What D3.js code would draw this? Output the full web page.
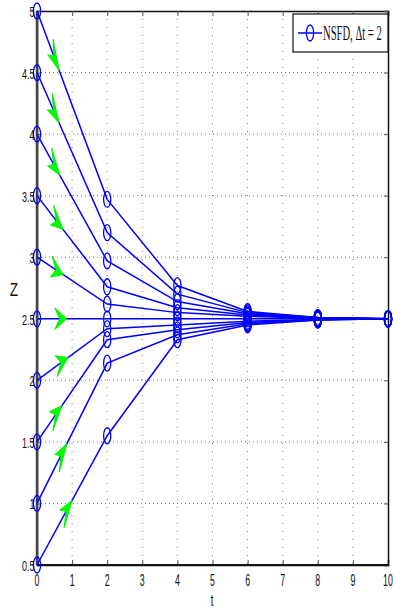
<!DOCTYPE html>
<html lang="en">
<head>
    <meta charset="UTF-8">
    <title>NSFD, dt = 2</title>
    <style>
        body {
            margin: 0;
            background-color: white;
        }
        svg {
            display: block;
        }
        .tick-label {
            font-family: "Liberation Sans", Arial, sans-serif;
            font-size: 15px;
            fill: #111;
        }
        .grid line {
            stroke: #777;
            stroke-width: 1;
        }
        .grid line.v { stroke-dasharray: 1,7; }
        .grid line.h { stroke-dasharray: 1,3; }
    </style>
    <script src="https://d3js.org/d3.v7.min.js"></script>
</head>
<body>
    <svg width="393" height="614"></svg>

    <script>
        // time steps of the scheme
        const tValues = [0, 2, 4, 6, 8, 10];

        // one trajectory per initial value
        const trajectories = [
            [5.0, 3.47, 2.77, 2.56, 2.51, 2.50],
            [4.5, 3.20, 2.70, 2.55, 2.51, 2.50],
            [4.0, 2.97, 2.64, 2.54, 2.51, 2.50],
            [3.5, 2.76, 2.59, 2.53, 2.505, 2.50],
            [3.0, 2.62, 2.55, 2.52, 2.505, 2.50],
            [2.5, 2.50, 2.50, 2.50, 2.50, 2.50],
            [2.0, 2.42, 2.45, 2.48, 2.495, 2.50],
            [1.5, 2.33, 2.41, 2.47, 2.495, 2.50],
            [1.0, 2.14, 2.37, 2.46, 2.49, 2.50],
            [0.5, 1.55, 2.33, 2.45, 2.49, 2.50]
        ];

        // where the green direction arrows sit on each trajectory (t of the tip)
        const arrowT = [0.63, 0.63, 0.65, 0.74, 0.74, 0.85, 0.88, 0.71, 0.85, 1.0];

        const xTicks = [0, 1, 2, 3, 4, 5, 6, 7, 8, 9, 10];
        const yTicks = [0.5, 1, 1.5, 2, 2.5, 3, 3.5, 4, 4.5, 5];
        const legendLabel = "NSFD, \u0394t = 2";

        const svg = d3.select("svg");
        const mLeft = 37, mRight = 388, mTop = 11, mBottom = 565;

        const x = d3.scaleLinear().domain([0, 10]).range([mLeft, mRight]);
        const y = d3.scaleLinear().domain([0.5, 5]).range([mBottom, mTop]);

        // narrow text, the original figure was stretched vertically
        function squeezedText(g, px, py, str, anchor, size, sx) {
            return g.append("text")
                .attr("transform", `translate(${px},${py}) scale(${sx},1)`)
                .attr("text-anchor", anchor)
                .style("font-size", size + "px")
                .text(str);
        }

        // dotted grid
        const grid = svg.append("g").attr("class", "grid");
        grid.selectAll("line.v")
            .data(xTicks.slice(1, -1))
            .enter().append("line")
            .attr("class", "v")
            .attr("x1", d => x(d)).attr("x2", d => x(d))
            .attr("y1", mTop).attr("y2", mBottom);
        grid.selectAll("line.h")
            .data(yTicks.slice(1, -1))
            .enter().append("line")
            .attr("class", "h")
            .attr("x1", mLeft).attr("x2", mRight)
            .attr("y1", d => y(d)).attr("y2", d => y(d));

        // axes (ticks pointing inward, like matlab)
        const axisBottom = d3.axisBottom(x).tickValues(xTicks).tickSize(-5).tickFormat("");
        const axisTop = d3.axisTop(x).tickValues(xTicks).tickSize(-5).tickFormat("");
        const axisLeft = d3.axisLeft(y).tickValues(yTicks).tickSize(-4).tickFormat("");
        const axisRight = d3.axisRight(y).tickValues(yTicks).tickSize(-4).tickFormat("");

        svg.append("g").attr("transform", `translate(0,${mBottom})`).call(axisBottom);
        svg.append("g").attr("transform", `translate(0,${mTop})`).call(axisTop);
        svg.append("g").attr("transform", `translate(${mLeft},0)`).call(axisLeft);
        svg.append("g").attr("transform", `translate(${mRight},0)`).call(axisRight);
        svg.selectAll(".domain").attr("stroke", "#111").attr("stroke-width", 1.5);
        svg.selectAll(".tick line").attr("stroke", "#555");

        // box edges, left and bottom a bit heavier
        svg.append("line").attr("x1", mLeft).attr("x2", mLeft).attr("y1", mTop).attr("y2", mBottom)
            .attr("stroke", "#444").attr("stroke-width", 2.5);
        svg.append("line").attr("x1", mLeft).attr("x2", mRight).attr("y1", mBottom).attr("y2", mBottom)
            .attr("stroke", "#111").attr("stroke-width", 2.2);

        // tick labels
        const labels = svg.append("g").attr("class", "tick-label");
        xTicks.forEach(d => squeezedText(labels, x(d), 586, d, "middle", 16, 0.55));
        yTicks.forEach(d => squeezedText(labels, mLeft - 2.5, y(d) + 6, d, "end", 15, 0.6));

        squeezedText(labels, 212, 606, "t", "middle", 16, 0.6);
        squeezedText(labels, 14, 296, "Z", "middle", 19, 0.72);

        // trajectories
        const line = d3.line()
            .x((d, i) => x(tValues[i]))
            .y(d => y(d));

        svg.append("g").selectAll("path")
            .data(trajectories)
            .enter().append("path")
            .attr("d", line)
            .attr("fill", "none")
            .attr("stroke", "#0000ff")
            .attr("stroke-width", 1.5);

        // green arrowheads along each trajectory, drawn in an even space then stretched in y
        const stretch = 2.8, headLen = 12, headHalf = 3.8;
        const arrows = svg.append("g");
        trajectories.forEach((tr, k) => {
            const t = arrowT[k];
            const zt = tr[0] + (tr[1] - tr[0]) * t / 2;
            const tipX = x(t), tipY = y(zt);
            const th = Math.atan2((y(tr[1]) - y(tr[0])) / stretch, x(2) - x(0));
            const pts = [[0, 0], [-headLen, -headHalf], [-headLen * 0.6, 0], [-headLen, headHalf]]
                .map(([px, py]) => [
                    tipX + px * Math.cos(th) - py * Math.sin(th),
                    tipY + (px * Math.sin(th) + py * Math.cos(th)) * stretch
                ]);
            arrows.append("path")
                .attr("d", "M" + pts.join("L") + "Z")
                .attr("fill", "#00ff00")
                .attr("stroke", "#00ee00")
                .attr("stroke-width", 1);
        });

        // ellipse markers
        const markers = svg.append("g");
        trajectories.forEach(tr => {
            markers.selectAll(null)
                .data(tr)
                .enter().append("ellipse")
                .attr("cx", (d, i) => x(tValues[i]))
                .attr("cy", d => y(d))
                .attr("rx", 3.6)
                .attr("ry", 8)
                .attr("fill", "none")
                .attr("stroke", "#0000ff")
                .attr("stroke-width", 1.3);
        });

        // legend
        const legend = svg.append("g");
        legend.append("rect")
            .attr("x", 293).attr("y", 14)
            .attr("width", 95).attr("height", 38)
            .attr("fill", "white")
            .attr("stroke", "#111")
            .attr("stroke-width", 1.2);
        legend.append("line")
            .attr("x1", 298).attr("x2", 322)
            .attr("y1", 33).attr("y2", 33)
            .attr("stroke", "#0000ff").attr("stroke-width", 1.5);
        legend.append("ellipse")
            .attr("cx", 310).attr("cy", 33)
            .attr("rx", 3.6).attr("ry", 8)
            .attr("fill", "none")
            .attr("stroke", "#0000ff").attr("stroke-width", 1.3);
        squeezedText(legend, 323, 40, legendLabel, "start", 20, 0.53)
            .style("font-family", "'Liberation Serif', 'Times New Roman', serif")
            .attr("fill", "#111");
    </script>
</body>
</html>
